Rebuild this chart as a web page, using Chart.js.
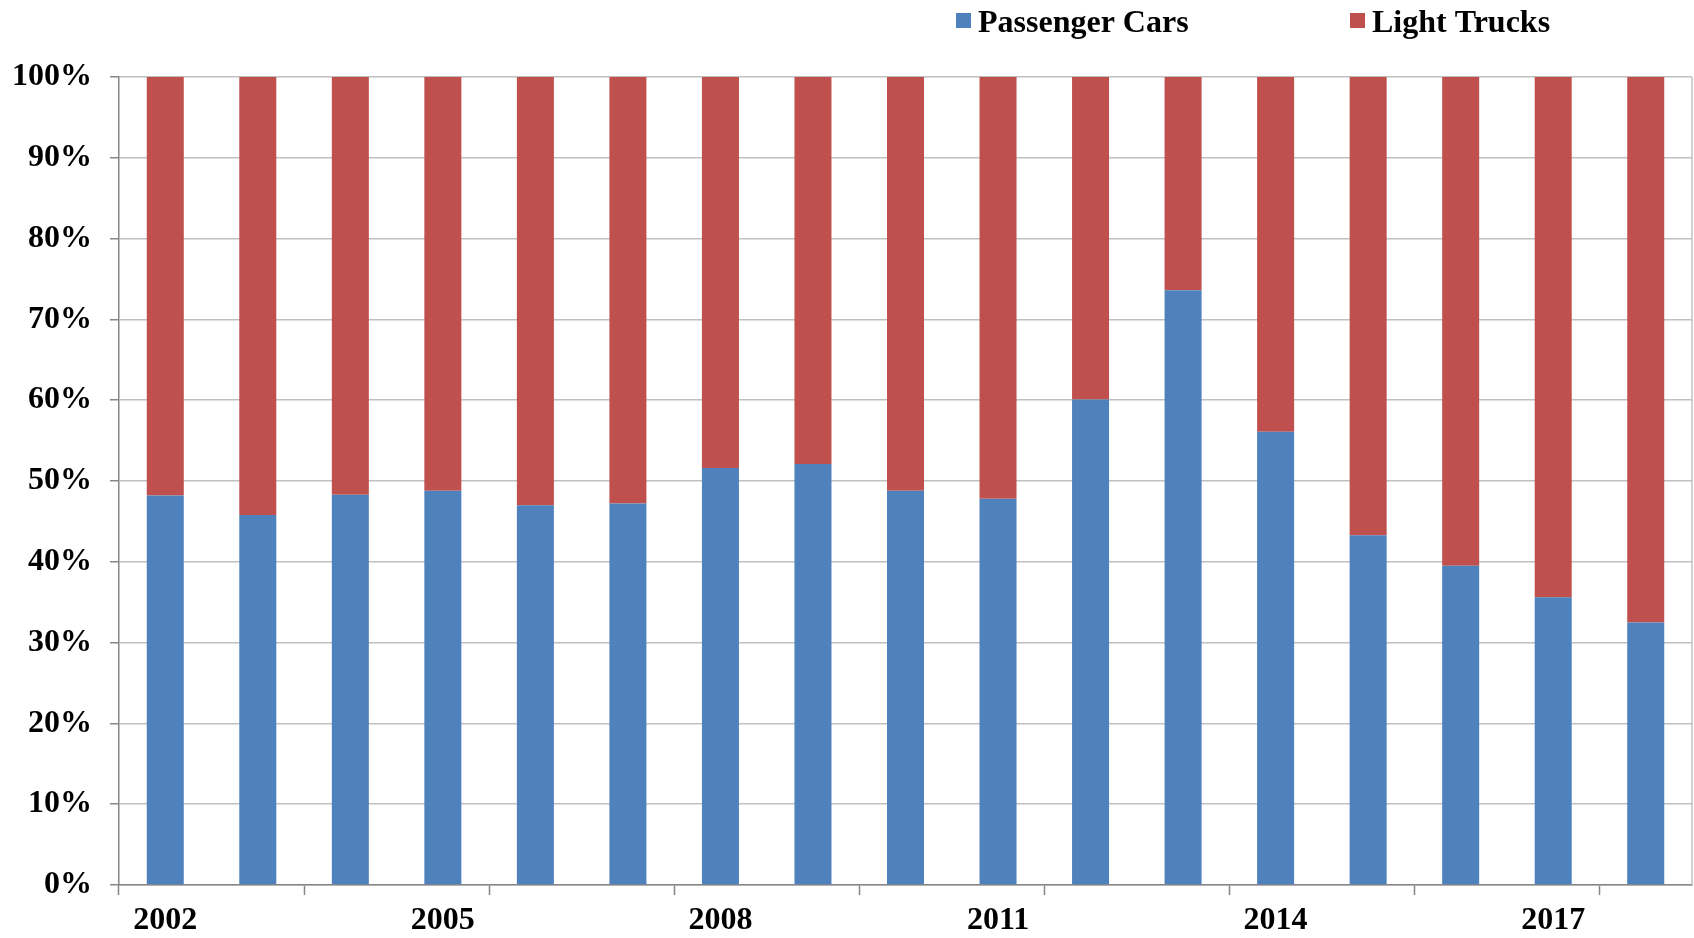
<!DOCTYPE html>
<html>
<head>
<meta charset="utf-8">
<script src="https://cdn.jsdelivr.net/npm/chart.js@4/dist/chart.umd.min.js"></script>
<style>
    html, body {margin: 0; padding: 0; background: #fff;}
    #wrap {width: 1694px; height: 938px; position: relative;}
</style>
</head>
<body>
<div id="wrap"><canvas id="shareChart"></canvas></div>
<script>
const years = ['2002', '2003', '2004', '2005', '2006', '2007', '2008', '2009', '2010',
    '2011', '2012', '2013', '2014', '2015', '2016', '2017', '2018']
const passengerCars = [48.2, 45.8, 48.3, 48.8, 47.0, 47.2, 51.6, 52.1, 48.8,
    47.8, 60.1, 73.6, 56.1, 43.3, 39.5, 35.6, 32.5]
const lightTrucks = [51.8, 54.2, 51.7, 51.2, 53.0, 52.8, 48.4, 47.9, 51.2,
    52.2, 39.9, 26.4, 43.9, 56.7, 60.5, 64.4, 67.5]
const percentTicks = [0, 10, 20, 30, 40, 50, 60, 70, 80, 90, 100]

const carColor = '#4f81bd'
const truckColor = '#c0504d'
const gridColor = '#c0c0c0'
const axisColor = '#868686'
const serif = "'Liberation Serif', 'Times New Roman', serif"
const axisFont = {family: serif, size: 32, weight: 'bold', lineHeight: 1}

// legend sits top right in the original, so draw it by hand
const topLegend = {
    id: 'topLegend',
    afterDraw(chart) {
        const ctx = chart.ctx
        const spots = [956, 1350]
        ctx.save()
        ctx.font = `bold 32px ${serif}`
        ctx.textBaseline = 'alphabetic'
        ctx.textAlign = 'left'
        chart.data.datasets.forEach((ds, i) => {
            ctx.fillStyle = ds.backgroundColor
            ctx.fillRect(spots[i], 13, 15, 15)
            ctx.fillStyle = '#000'
            ctx.fillText(ds.label, spots[i] + 22, 32)
        })
        ctx.restore()
    },
}

// right edge of the plot frame
const plotFrame = {
    id: 'plotFrame',
    afterDraw(chart) {
        const a = chart.chartArea
        const ctx = chart.ctx
        ctx.save()
        ctx.strokeStyle = gridColor
        ctx.lineWidth = 1.5
        ctx.beginPath()
        ctx.moveTo(a.right, a.top)
        ctx.lineTo(a.right, a.bottom)
        ctx.stroke()
        ctx.restore()
    },
}

new Chart(document.getElementById('shareChart'), {
    type: 'bar',
    plugins: [topLegend, plotFrame],
    data: {
        labels: years,
        datasets: [
            {
                label: 'Passenger Cars',
                data: passengerCars,
                backgroundColor: carColor,
                categoryPercentage: 1,
                barPercentage: 0.4,
            },
            {
                label: 'Light Trucks',
                data: lightTrucks,
                backgroundColor: truckColor,
                categoryPercentage: 1,
                barPercentage: 0.4,
            },
        ],
    },
    options: {
        responsive: true,
        maintainAspectRatio: false,
        animation: false,
        layout: {padding: {top: 77, right: 2, left: 0, bottom: -9}},
        plugins: {
            legend: {display: false},
            tooltip: {enabled: false},
        },
        scales: {
            x: {
                stacked: true,
                grid: {
                    display: true,
                    offset: true,
                    drawOnChartArea: false,
                    drawTicks: true,
                    tickLength: 10,
                    tickWidth: 1.5,
                    tickColor: c => (c.index % 2 === 0 ? axisColor : 'rgba(0,0,0,0)'),
                },
                border: {color: axisColor, width: 1.5},
                ticks: {
                    autoSkip: false,
                    maxRotation: 0,
                    color: '#000',
                    font: axisFont,
                    padding: 10,
                    callback: (v, i) => (i % 3 === 0 ? years[i] : ''),
                },
            },
            y: {
                stacked: true,
                min: 0,
                max: 100,
                afterBuildTicks: axis => {
                    axis.ticks = percentTicks.map(v => ({value: v}))
                },
                afterFit: axis => {
                    axis.width = 119
                },
                grid: {
                    color: gridColor,
                    lineWidth: 1.5,
                    tickColor: axisColor,
                    tickLength: 9,
                },
                border: {color: axisColor, width: 1.5},
                ticks: {
                    color: '#000',
                    font: axisFont,
                    padding: 18,
                    callback: v => `${v}%`,
                },
            },
        },
    },
})
</script>
</body>
</html>
